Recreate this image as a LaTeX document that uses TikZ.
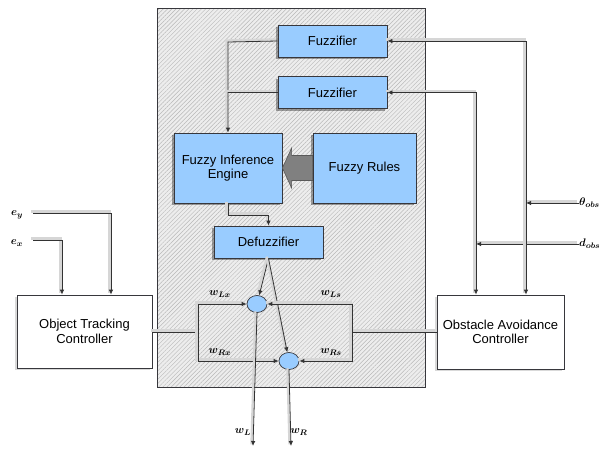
\documentclass[tikz,border=0pt]{standalone}
\usepackage{fontspec}
\setmainfont{Liberation Sans}
\usetikzlibrary{arrows.meta,patterns.meta,shapes.geometric,shadows,calc}
\definecolor{boxblue}{RGB}{153,204,255}
\definecolor{edgec}{RGB}{55,55,60}
\begin{document}
\begin{tikzpicture}[x=1pt,y=-1pt,
  every node/.style={font=\fontsize{13}{14.5}\selectfont, inner sep=0pt},
  mainbox/.style={draw=edgec, line width=0.9pt, minimum width=268pt, minimum height=379pt,
     preaction={fill=black!7}, pattern={Lines[angle=45,distance=3pt,line width=0.45pt]}, pattern color=black!28},
  bluebox/.style={draw=edgec, line width=0.8pt, fill=boxblue, align=center,
     drop shadow={shadow xshift=-2pt, shadow yshift=-2pt, fill=black, opacity=0.35}},
  ctrlbox/.style={draw=edgec, line width=0.8pt, fill=white, align=center,
     drop shadow={shadow xshift=-2pt, shadow yshift=-2pt, fill=black, opacity=0.15}},
  sumnode/.style={ellipse, draw=edgec, line width=0.7pt, fill=boxblue, minimum width=20pt, minimum height=17pt},
  conn/.style={draw=black!80, line width=0.8pt,
     preaction={-, draw=black!16, line width=2.2pt, transform canvas={xshift=-1.6pt, yshift=1.6pt}}},
  arr/.style={conn, -{Latex[length=5pt,width=4.5pt]}},
  lbl/.style={font=\fontsize{11}{12}\selectfont\boldmath}
]
\useasboundingbox (0,0) rectangle (606,448);

% main panel
\node[mainbox] (main) at (291,197.5) {};

% blue boxes
\node[bluebox, minimum width=109pt, minimum height=32pt] (fz1) at (332.5,41) {Fuzzifier};
\node[bluebox, minimum width=109pt, minimum height=32pt] (fz2) at (332.5,92.5) {Fuzzifier};
\node[bluebox, minimum width=108pt, minimum height=70pt] (fie) at (228,168) {Fuzzy Inference\\Engine};
\node[bluebox, minimum width=103pt, minimum height=70pt] (fr) at (364.5,168) {Fuzzy Rules};
\node[bluebox, minimum width=109pt, minimum height=32pt] (dfz) at (268.5,242) {Defuzzifier};

% big gray arrow from rules to engine
\filldraw[fill=black!50, draw=black!65, line width=0.6pt]
  ($(fr.west)+(0,-12.5)$) -- ++(-21,0) -- ++(0,-7.5) -- (fie.east) -- ($(fr.west)+(-21,20)$)
  -- ++(0,-7.5) -- ($(fr.west)+(0,12.5)$) -- cycle;

% controllers
\node[ctrlbox, minimum width=135pt, minimum height=73pt] (otc) at (84.5,331.5) {Object Tracking\\Controller};
\node[ctrlbox, minimum width=127pt, minimum height=74pt] (oac) at (500.5,332) {Obstacle Avoidance\\Controller};

% summing nodes
\node[sumnode] (c1) at (257,304) {};
\node[sumnode] (c2) at (289,361) {};

% coordinates
\coordinate (jl) at (198,332);
\coordinate (jr) at (352,332);
\coordinate (jth) at (526,203);
\coordinate (jd) at (476,244);
\coordinate (fzj) at (228,42);
\coordinate (fdj) at (228,215);
\coordinate (ey) at (33,213);
\coordinate (ex) at (33,240);
\coordinate (wlend) at (253,446);
\coordinate (wrend) at (291,446);

% input labels
\node[lbl, anchor=west] (lth) at (579,203) {$\theta_{obs}$};
\node[lbl, anchor=west] (ld) at (579,244) {$d_{obs}$};
\node[lbl] (ley) at (17,215) {$e_y$};
\node[lbl] (lex) at (17,243) {$e_x$};

% fuzzifiers to engine
\draw[arr] (fz1.west) -- (fzj) -- (fie.north);
\draw[conn] (fz2.west) -- (fz2.west -| fzj);

% obstacle inputs
\draw[arr] (lth.west) -- (jth);
\draw[arr] (ld.west) -- (jd);
\draw[arr] (jth) |- (fz1.east);
\draw[arr] (jd) |- (fz2.east);
\draw[arr] (jth) -- (jth |- oac.north);
\draw[arr] (jd) -- (jd |- oac.north);

% tracking inputs
\draw[arr] (ey) -| (otc.north -| 111,0);
\draw[arr] (ex) -| (otc.north -| 62,0);

% engine to defuzzifier
\draw[arr] (fie.south) -- (fdj) -| (dfz.north);

% defuzzifier to summing nodes
\draw[arr] (dfz.south) -- (c1);
\draw[arr] (dfz.south) -- (c2);

% controller weights
\draw[conn] (otc.east |- jl) -- (jl);
\draw[conn] (oac.west |- jr) -- (jr);
\draw[arr] (jl) |- (c1.west);
\draw[arr] (jl) |- (c2.west);
\draw[arr] (jr) |- (c1.east);
\draw[arr] (jr) |- (c2.east);

% outputs
\draw[arr] (c1.south) -- (wlend);
\draw[arr] (c2.south) -- (wrend);

% weight labels
\node[lbl] (wlx) at (220,294) {$w_{Lx}$};
\node[lbl] (wls) at (331,294) {$w_{Ls}$};
\node[lbl] (wrx) at (220,352) {$w_{Rx}$};
\node[lbl] (wrs) at (331,352) {$w_{Rs}$};
\node[lbl] (wl) at (243,432) {$w_L$};
\node[lbl] (wr) at (299,432) {$w_R$};
\end{tikzpicture}
\end{document}
